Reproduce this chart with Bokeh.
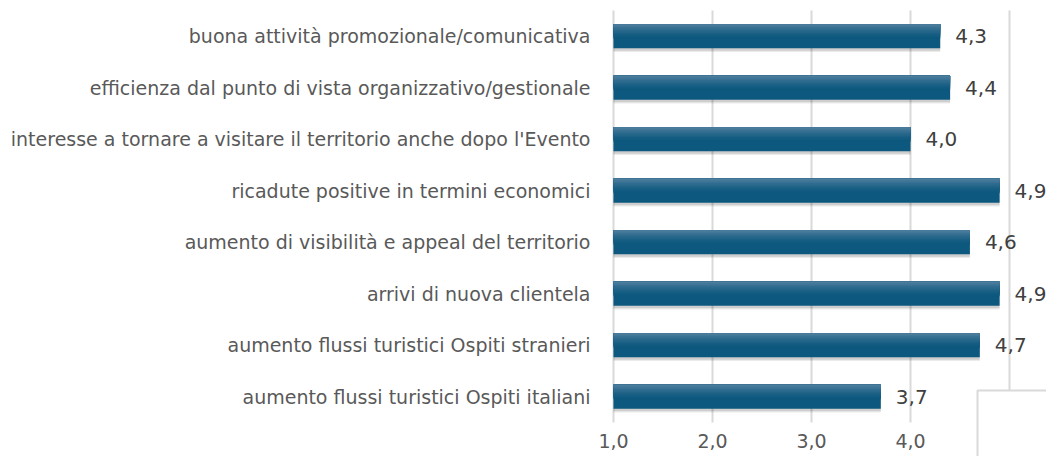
from bokeh.plotting import figure
from bokeh.models import FixedTicker, ColumnDataSource, Range1d
from bokeh.core.properties import value
from bokeh.embed import file_html
from bokeh.resources import INLINE

categories = [
    "buona attività promozionale/comunicativa",
    "efficienza dal punto di vista organizzativo/gestionale",
    "interesse a tornare a visitare il territorio anche dopo l'Evento",
    "ricadute positive in termini economici",
    "aumento di visibilità e appeal del territorio",
    "arrivi di nuova clientela",
    "aumento flussi turistici Ospiti stranieri",
    "aumento flussi turistici Ospiti italiani",
]
values = [4.3, 4.4, 4.0, 4.9, 4.6, 4.9, 4.7, 3.7]
tick_values = [1, 2, 3, 4]
tick_labels = ["1,0", "2,0", "3,0", "4,0"]
grid_values = [1, 2, 3, 4, 5]

# ---- layout constants (pixels) ----
W, H = 1046, 456
FRAME_LEFT = 592          # canvas x where the plotting frame begins
X0_PX = 613               # pixel position of value 1.0
PX_PER_UNIT = 99.0
PX_PER_CAT = 51.5
TOP_PAD = 10              # space above first category band
n = len(categories)

x_start = 1 - (X0_PX - FRAME_LEFT) / PX_PER_UNIT
x_end = 1 + (W - X0_PX) / PX_PER_UNIT
y_end = (n - 0.5) + TOP_PAD / PX_PER_CAT
y_start = y_end - H / PX_PER_CAT
axis_y = -0.5                                   # baseline of the value axis
tick_label_y = y_end - 440 / PX_PER_CAT         # centre line of tick labels
panel_left = 1 + (977 - X0_PX) / PX_PER_UNIT
panel_top = y_end - 390 / PX_PER_CAT

ypos = [n - 1 - i for i in range(n)]
labels = [f"{v:.1f}".replace(".", ",") for v in values]
src = ColumnDataSource(dict(cat=categories, val=values, lab=labels, y=ypos))

FONT = "DejaVu Sans"

p = figure(width=W, height=H, x_range=Range1d(x_start, x_end),
           y_range=Range1d(y_start, y_end), output_backend="svg",
           toolbar_location=None, min_border_left=FRAME_LEFT,
           min_border_right=0, min_border_top=0, min_border_bottom=0)
p.outline_line_color = None
p.background_fill_color = "white"
p.border_fill_color = "white"
p.xaxis.visible = False
p.xgrid.grid_line_color = None
p.ygrid.grid_line_color = None

# vertical grid lines spanning the category area
p.segment(x0=grid_values, x1=grid_values, y0=[axis_y] * len(grid_values),
          y1=[n - 0.5] * len(grid_values), line_color="#d9d9d9", line_width=2)

BAR_H = 0.466
# soft shadow
for off, a in ((-0.075, 0.08), (-0.05, 0.12)):
    src.data[f"ys{a}"] = [y + off for y in ypos]
    p.hbar(y=f"ys{a}", left=1, right="val", height=BAR_H, source=src,
           fill_color="black", fill_alpha=a, line_color=None)

# gradient: base bar in dark colour, then lighter layers anchored at top edge
bot_c = (0x0c, 0x58, 0x7e)
top_c = (0x4c, 0x7d, 0x9d)
p.hbar(y="y", left=1, right="val", height=BAR_H, source=src,
       fill_color="#%02x%02x%02x" % bot_c, line_color=None)
N = 10
for i in range(N):
    frac = 0.6 * (1 - i / N)
    u = (i + 1) / N
    c = tuple(int(bot_c[k] + (top_c[k] - bot_c[k]) * u ** 1.6) for k in range(3))
    h = BAR_H * frac
    off = BAR_H / 2 - h / 2
    col = f"yg{i}"
    src.data[col] = [y + off for y in ypos]
    p.hbar(y=col, left=1, right="val", height=h, source=src,
           fill_color="#%02x%02x%02x" % c, line_color=None)

# value labels
p.text(x="val", y="y", text="lab", source=src, x_offset=15,
       text_baseline="middle", text_align="left", text_font_size="20px",
       text_color="#404040", text_font=value(FONT))

# value-axis tick labels
p.text(x=tick_values, y=[tick_label_y] * len(tick_values), text=tick_labels,
       text_baseline="middle", text_align="center", text_font_size="19px",
       text_color="#595959", text_font=value(FONT))

# category axis
p.yaxis.ticker = FixedTicker(ticks=ypos)
p.yaxis.major_label_overrides = {y: c for y, c in zip(ypos, categories)}
p.yaxis.axis_line_color = None
p.yaxis.major_tick_line_color = None
p.yaxis.minor_tick_line_color = None
p.yaxis.major_tick_out = 0
p.yaxis.major_tick_in = 0
p.yaxis.major_label_text_font = FONT
p.yaxis.major_label_text_font_size = "19px"
p.yaxis.major_label_text_color = "#595959"
p.yaxis.major_label_standoff = 2

# empty white panel with light border at the lower right corner
p.quad(left=[panel_left], right=[x_end + 1], top=[panel_top], bottom=[y_start - 1],
       fill_color="white", line_color="#d9d9d9", line_width=2)

open("out.html", "w").write(file_html(p, INLINE))
